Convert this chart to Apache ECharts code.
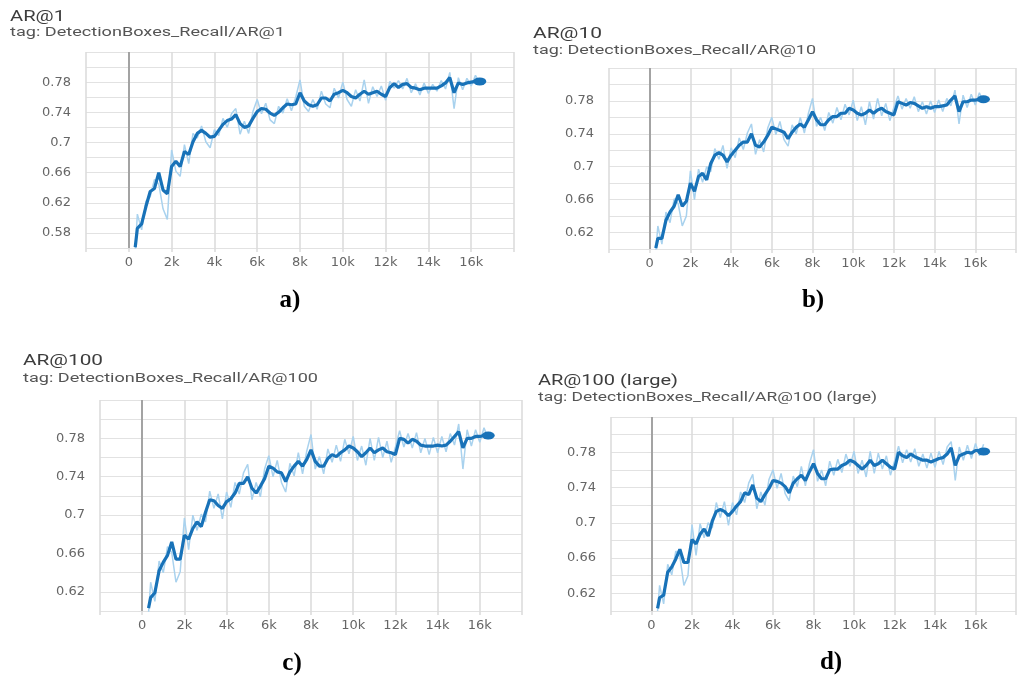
<!DOCTYPE html>
<html>
<head>
<meta charset="utf-8">
<title>DetectionBoxes_Recall</title>
<script src="https://cdn.jsdelivr.net/npm/echarts@6/dist/echarts.min.js"></script>
<style>
    html, body { margin: 0; padding: 0; background: #fff; }
    #chart { width: 1019px; height: 677px; }
</style>
</head>
<body>
<div id="chart"></div>
<script>
// 训练步数
const steps = [300, 400, 600, 800, 1000, 1200, 1400, 1600, 1800, 2000,
    2200, 2400, 2600, 2800, 3000, 3200, 3400, 3600, 3800, 4000,
    4200, 4400, 4600, 4800, 5000, 5200, 5400, 5600, 5800, 6000,
    6200, 6400, 6600, 6800, 7000, 7200, 7400, 7600, 7800, 8000,
    8200, 8400, 8600, 8800, 9000, 9200, 9400, 9600, 9800, 10000,
    10200, 10400, 10600, 10800, 11000, 11200, 11400, 11600, 11800, 12000,
    12200, 12400, 12600, 12800, 13000, 13200, 13400, 13600, 13800, 14000,
    14200, 14400, 14600, 14800, 15000, 15200, 15400, 15600, 15800, 16000,
    16200, 16400];

const titles = ['AR@1', 'AR@10', 'AR@100', 'AR@100 (large)'];
const captions = ['a)', 'b)', 'c)', 'd)'];
const yRanges = [[0.56, 0.82], [0.60, 0.82], [0.60, 0.82], [0.60, 0.82]];

// 平滑曲线
const smoothA = [0.561, 0.586, 0.592, 0.615, 0.635, 0.639, 0.660, 0.637, 0.632, 0.668,
    0.675, 0.668, 0.688, 0.684, 0.701, 0.712, 0.716, 0.712, 0.707, 0.708,
    0.716, 0.724, 0.729, 0.731, 0.737, 0.725, 0.720, 0.722, 0.732, 0.741,
    0.745, 0.744, 0.739, 0.736, 0.740, 0.746, 0.751, 0.750, 0.751, 0.766,
    0.755, 0.750, 0.748, 0.750, 0.759, 0.759, 0.755, 0.764, 0.766, 0.769,
    0.766, 0.761, 0.759, 0.764, 0.768, 0.764, 0.766, 0.768, 0.764, 0.761,
    0.773, 0.778, 0.773, 0.777, 0.778, 0.773, 0.772, 0.770, 0.772, 0.772,
    0.772, 0.772, 0.775, 0.779, 0.786, 0.766, 0.779, 0.777, 0.779, 0.780,
    0.781, 0.781];
const smoothB = [0.601, 0.613, 0.613, 0.635, 0.645, 0.652, 0.666, 0.652, 0.658, 0.680,
    0.670, 0.688, 0.692, 0.684, 0.704, 0.714, 0.717, 0.714, 0.706, 0.714,
    0.720, 0.726, 0.730, 0.730, 0.740, 0.726, 0.724, 0.730, 0.738, 0.748,
    0.746, 0.744, 0.742, 0.734, 0.742, 0.748, 0.752, 0.748, 0.757, 0.767,
    0.757, 0.751, 0.751, 0.757, 0.761, 0.761, 0.765, 0.765, 0.771, 0.769,
    0.765, 0.763, 0.765, 0.769, 0.765, 0.769, 0.771, 0.767, 0.765, 0.763,
    0.779, 0.777, 0.775, 0.778, 0.777, 0.774, 0.771, 0.773, 0.771, 0.773,
    0.773, 0.774, 0.775, 0.781, 0.786, 0.767, 0.779, 0.779, 0.781, 0.781,
    0.782, 0.782];
const smoothC = [0.603, 0.614, 0.619, 0.642, 0.651, 0.658, 0.672, 0.654, 0.654, 0.679,
    0.675, 0.686, 0.693, 0.688, 0.703, 0.716, 0.715, 0.710, 0.707, 0.714,
    0.717, 0.723, 0.733, 0.733, 0.740, 0.728, 0.723, 0.730, 0.738, 0.751,
    0.749, 0.745, 0.744, 0.735, 0.745, 0.751, 0.756, 0.751, 0.758, 0.768,
    0.756, 0.751, 0.751, 0.759, 0.763, 0.761, 0.765, 0.768, 0.772, 0.770,
    0.766, 0.761, 0.765, 0.770, 0.765, 0.768, 0.770, 0.766, 0.765, 0.763,
    0.780, 0.779, 0.775, 0.779, 0.777, 0.773, 0.772, 0.772, 0.772, 0.773,
    0.772, 0.773, 0.777, 0.782, 0.787, 0.770, 0.780, 0.780, 0.782, 0.782,
    0.783, 0.783];
const smoothD = [0.603, 0.615, 0.618, 0.644, 0.650, 0.659, 0.670, 0.655, 0.655, 0.681,
    0.676, 0.687, 0.693, 0.685, 0.702, 0.713, 0.715, 0.713, 0.708, 0.713,
    0.719, 0.724, 0.734, 0.732, 0.743, 0.728, 0.724, 0.732, 0.739, 0.748,
    0.747, 0.745, 0.741, 0.734, 0.745, 0.750, 0.754, 0.748, 0.758, 0.767,
    0.756, 0.750, 0.750, 0.760, 0.761, 0.761, 0.765, 0.767, 0.771, 0.769,
    0.765, 0.761, 0.765, 0.771, 0.765, 0.767, 0.771, 0.767, 0.763, 0.761,
    0.780, 0.776, 0.774, 0.778, 0.775, 0.773, 0.771, 0.771, 0.769, 0.771,
    0.773, 0.774, 0.778, 0.785, 0.765, 0.776, 0.778, 0.780, 0.779, 0.782,
    0.782, 0.781];

// 原始数据（浅色）
const rawA = [0.556, 0.605, 0.584, 0.622, 0.628, 0.651, 0.645, 0.612, 0.598, 0.690,
    0.662, 0.655, 0.697, 0.672, 0.712, 0.706, 0.722, 0.701, 0.693, 0.717,
    0.709, 0.732, 0.720, 0.738, 0.745, 0.711, 0.728, 0.712, 0.741, 0.757,
    0.738, 0.752, 0.730, 0.725, 0.748, 0.739, 0.758, 0.742, 0.760, 0.783,
    0.748, 0.741, 0.757, 0.744, 0.768, 0.751, 0.746, 0.772, 0.759, 0.780,
    0.757, 0.748, 0.770, 0.755, 0.783, 0.752, 0.774, 0.761, 0.775, 0.756,
    0.781, 0.772, 0.782, 0.771, 0.785, 0.766, 0.778, 0.763, 0.779, 0.765,
    0.777, 0.768, 0.782, 0.771, 0.793, 0.745, 0.786, 0.770, 0.785, 0.775,
    0.789, 0.778];
const rawB = [0.598, 0.628, 0.606, 0.645, 0.632, 0.661, 0.655, 0.628, 0.640, 0.695,
    0.660, 0.697, 0.681, 0.700, 0.694, 0.722, 0.709, 0.726, 0.698, 0.723,
    0.711, 0.735, 0.721, 0.741, 0.752, 0.715, 0.733, 0.718, 0.747, 0.760,
    0.739, 0.755, 0.733, 0.725, 0.751, 0.740, 0.760, 0.741, 0.765, 0.783,
    0.749, 0.760, 0.744, 0.766, 0.753, 0.772, 0.757, 0.776, 0.763, 0.781,
    0.756, 0.773, 0.751, 0.779, 0.758, 0.783, 0.762, 0.777, 0.756, 0.772,
    0.786, 0.770, 0.783, 0.771, 0.785, 0.767, 0.779, 0.764, 0.780, 0.766,
    0.781, 0.767, 0.783, 0.774, 0.793, 0.752, 0.787, 0.772, 0.788, 0.775,
    0.790, 0.778];
const rawC = [0.598, 0.630, 0.610, 0.652, 0.640, 0.667, 0.661, 0.630, 0.641, 0.697,
    0.664, 0.700, 0.684, 0.701, 0.693, 0.725, 0.707, 0.722, 0.696, 0.724,
    0.708, 0.734, 0.722, 0.744, 0.753, 0.716, 0.734, 0.719, 0.748, 0.762,
    0.740, 0.757, 0.734, 0.724, 0.754, 0.741, 0.765, 0.743, 0.767, 0.784,
    0.748, 0.761, 0.743, 0.769, 0.755, 0.773, 0.756, 0.779, 0.764, 0.782,
    0.757, 0.772, 0.752, 0.780, 0.757, 0.781, 0.760, 0.777, 0.755, 0.771,
    0.788, 0.771, 0.785, 0.770, 0.786, 0.765, 0.780, 0.763, 0.781, 0.765,
    0.782, 0.766, 0.785, 0.773, 0.795, 0.748, 0.789, 0.772, 0.789, 0.776,
    0.791, 0.779];
const rawD = [0.600, 0.629, 0.608, 0.653, 0.641, 0.668, 0.662, 0.629, 0.640, 0.698,
    0.663, 0.699, 0.683, 0.700, 0.694, 0.723, 0.706, 0.724, 0.697, 0.723,
    0.709, 0.735, 0.723, 0.745, 0.755, 0.716, 0.735, 0.720, 0.749, 0.760,
    0.739, 0.756, 0.733, 0.725, 0.753, 0.741, 0.764, 0.742, 0.767, 0.783,
    0.747, 0.760, 0.742, 0.770, 0.754, 0.772, 0.757, 0.778, 0.764, 0.781,
    0.756, 0.771, 0.752, 0.781, 0.756, 0.779, 0.761, 0.776, 0.754, 0.770,
    0.787, 0.768, 0.783, 0.769, 0.784, 0.764, 0.778, 0.762, 0.779, 0.763,
    0.781, 0.766, 0.786, 0.792, 0.748, 0.786, 0.771, 0.788, 0.773, 0.790,
    0.776, 0.789];

const smoothList = [smoothA, smoothB, smoothC, smoothD];
const rawList = [rawA, rawB, rawC, rawD];

// 每个子图的位置：绘图区、标题(x, 中线y, 宽)、标签、题注
const layout = [
    { left: 86, top: 52, width: 428, height: 196, title: [10, 17, 55], tag: [10, 33, 275], cap: [290, 301] },
    { left: 609, top: 68, width: 420, height: 181, title: [533, 34, 69], tag: [533, 50.5, 283], cap: [813, 301] },
    { left: 100, top: 400, width: 422, height: 211, title: [23, 361, 80], tag: [23, 379, 295], cap: [292, 664] },
    { left: 611, top: 417, width: 408, height: 194, title: [538, 381, 140], tag: [538, 397.5, 339], cap: [831, 663] }
];

const TITLE_FONT = '14px Roboto';
const TAG_FONT = '12.5px Roboto';
const LINE_COLOR = '#1872b8';
const measureCtx = document.createElement('canvas').getContext('2d');

// 按目标宽度拉伸文字
function fitScale(text, font, width) {
    measureCtx.font = font;
    return width / measureCtx.measureText(text).width;
}

function stretchText(text, font, pos, color) {
    return {
        type: 'text',
        x: pos[0],
        y: pos[1],
        scaleX: fitScale(text, font, pos[2]),
        silent: true,
        style: {
            text: text,
            font: font,
            fill: color,
            textAlign: 'left',
            textVerticalAlign: 'middle',
            align: 'left',
            verticalAlign: 'middle'
        }
    };
}

const grids = [], xAxes = [], yAxes = [], series = [], graphics = [];

layout.forEach((lay, i) => {
    grids.push({ left: lay.left, top: lay.top, width: lay.width, height: lay.height, containLabel: false });

    xAxes.push({
        type: 'value',
        gridIndex: i,
        min: -2000,
        max: 18000,
        interval: 2000,
        axisLine: { show: false },
        axisTick: { show: true, length: 4, lineStyle: { color: '#dcdcdc', width: 1.6 } },
        axisLabel: {
            margin: 8,
            color: '#666',
            fontFamily: 'DejaVu Sans',
            fontSize: 13,
            formatter: v => (v < 0 || v > 16000) ? '' : (v === 0 ? '0' : (v / 1000) + 'k')
        },
        splitLine: { show: true, lineStyle: { color: '#dcdcdc', width: 1.6 } }
    });

    yAxes.push({
        type: 'value',
        gridIndex: i,
        min: yRanges[i][0],
        max: yRanges[i][1],
        interval: 0.02,
        axisLine: { show: false },
        axisTick: { show: true, length: 4, lineStyle: { color: '#e0e0e0' } },
        axisLabel: {
            margin: 15,
            color: '#666',
            fontFamily: 'DejaVu Sans',
            fontSize: 13,
            formatter: v => {
                const n = Math.round(v * 100);
                return (n % 4 === 2 && n < 81) ? String(n / 100) : '';
            }
        },
        splitLine: { show: true, lineStyle: { color: '#e2e2e2', width: 1.2 } }
    });

    const raw = rawList[i], smooth = smoothList[i];

    series.push({
        type: 'line',
        xAxisIndex: i,
        yAxisIndex: i,
        data: steps.map((s, j) => [s, raw[j]]),
        symbol: 'none',
        silent: true,
        z: 2,
        lineStyle: { color: '#a9d2ee', width: 1.5 },
        markLine: {
            silent: true,
            symbol: 'none',
            label: { show: false },
            lineStyle: { color: '#a3a3a3', width: 2, type: 'solid' },
            data: [{ xAxis: 0 }]
        }
    });

    series.push({
        type: 'line',
        xAxisIndex: i,
        yAxisIndex: i,
        data: steps.map((s, j) => [s, smooth[j]]),
        symbol: 'none',
        silent: true,
        z: 3,
        lineStyle: { color: LINE_COLOR, width: 3.2 }
    });

    // 末端圆点
    const last = steps.length - 1;
    series.push({
        type: 'scatter',
        xAxisIndex: i,
        yAxisIndex: i,
        data: [[steps[last], smooth[last]]],
        symbol: 'circle',
        symbolSize: [13, 8],
        silent: true,
        z: 4,
        itemStyle: { color: LINE_COLOR, opacity: 1 }
    });

    graphics.push(stretchText(titles[i], TITLE_FONT, lay.title, '#3d3d3d'));
    graphics.push(stretchText('tag: DetectionBoxes_Recall/' + titles[i], TAG_FONT, lay.tag, '#555'));
    graphics.push({
        type: 'text',
        x: lay.cap[0],
        y: lay.cap[1],
        silent: true,
        style: {
            text: captions[i],
            font: 'bold 25px "Liberation Serif"',
            fill: '#000',
            textAlign: 'center',
            textVerticalAlign: 'middle',
            align: 'center',
            verticalAlign: 'middle'
        }
    });
});

const chart = echarts.init(document.getElementById('chart'));
chart.setOption({
    backgroundColor: '#fff',
    animation: false,
    grid: grids,
    xAxis: xAxes,
    yAxis: yAxes,
    series: series,
    graphic: graphics
});
</script>
</body>
</html>
